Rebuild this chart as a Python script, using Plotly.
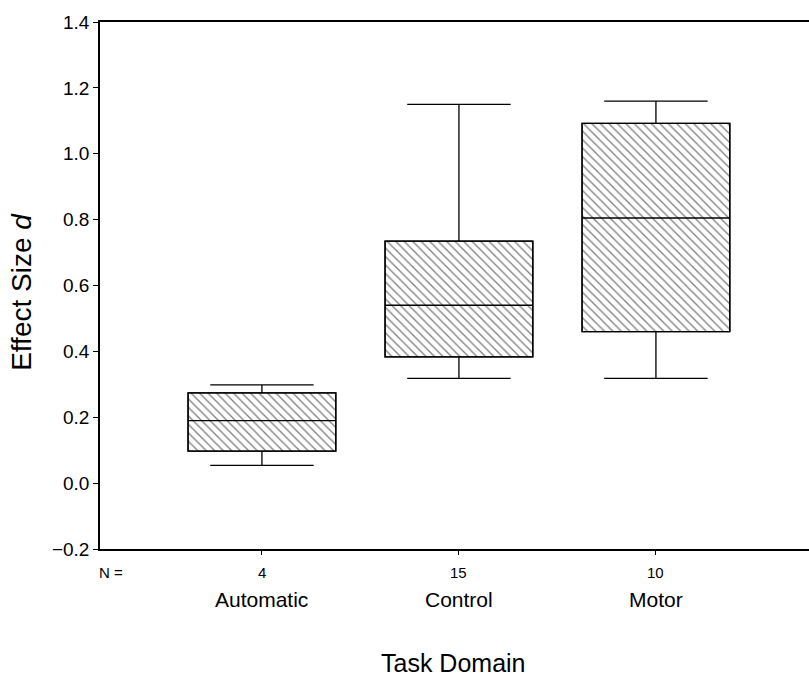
import plotly.graph_objects as go

categories = ["Automatic", "Control", "Motor"]
n_values = ["4", "15", "10"]
q1 = [0.097, 0.383, 0.460]
median = [0.190, 0.540, 0.805]
q3 = [0.274, 0.735, 1.092]
lower = [0.054, 0.318, 0.318]
upper = [0.298, 1.150, 1.160]
yticks = [-0.2, 0.0, 0.2, 0.4, 0.6, 0.8, 1.0, 1.2, 1.4]

xpos = list(range(len(categories)))
font_family = "Liberation Sans, Arial, sans-serif"

fig = go.Figure()
fig.add_trace(go.Bar(
    x=xpos, base=q1, y=[b - a for a, b in zip(q1, q3)], width=0.75,
    marker=dict(color="white", line=dict(color="black", width=1.3),
                pattern=dict(shape="\\", size=6, solidity=0.22,
                             fgcolor="black", bgcolor="white")),
    showlegend=False, hoverinfo="skip"))
fig.add_trace(go.Box(
    x=xpos, q1=q1, median=median, q3=q3, lowerfence=lower, upperfence=upper,
    width=0.75, whiskerwidth=0.7, fillcolor="rgba(0,0,0,0)",
    line=dict(color="black", width=1.3), showlegend=False, boxpoints=False))

ann = []
for i, (c, n) in enumerate(zip(categories, n_values)):
    ann.append(dict(x=i, y=0, xref="x", yref="paper", text=n, showarrow=False,
                    yshift=-23, yanchor="middle", font=dict(size=15)))
    ann.append(dict(x=i, y=0, xref="x", yref="paper", text=c, showarrow=False,
                    yshift=-50, yanchor="middle", font=dict(size=21)))
ann.append(dict(x=-0.004, y=0, xref="paper", yref="paper", text="N =", showarrow=False,
                yshift=-23, yanchor="middle", font=dict(size=15)))
ann.append(dict(x=0.499, y=0, xref="paper", yref="paper", text="Task Domain", showarrow=False,
                yshift=-114, yanchor="middle", font=dict(size=25)))
ann.append(dict(x=-0.11, y=0.488, xref="paper", yref="paper", text="Effect Size <i>d</i>",
                showarrow=False, textangle=-90, xanchor="center", yanchor="middle",
                font=dict(size=28)))

fig.update_layout(
    width=809, height=677,
    margin=dict(l=100, r=0, t=22, b=128),
    plot_bgcolor="white", paper_bgcolor="white",
    font=dict(family=font_family, color="black"),
    barmode="overlay",
    annotations=ann,
    xaxis=dict(range=[-0.822, 2.777], tickvals=xpos, ticktext=["", "", ""],
               ticks="outside", ticklen=4, tickwidth=1.3, tickcolor="black",
               showline=True, linecolor="black", linewidth=1.5, mirror=True,
               showgrid=False, zeroline=False),
    yaxis=dict(range=[-0.2, 1.4], tickvals=yticks,
               ticktext=[f"{v:.1f}".replace("-", "\u2212") for v in yticks],
               ticks="outside", ticklen=5, tickwidth=1.3, tickcolor="black",
               tickfont=dict(size=19),
               showline=True, linecolor="black", linewidth=1.5,
               showgrid=False, zeroline=False),
)
fig.write_html("out.html", config={"displayModeBar": False},
               post_script="document.body.style.margin='0';document.body.style.overflow='hidden';")
